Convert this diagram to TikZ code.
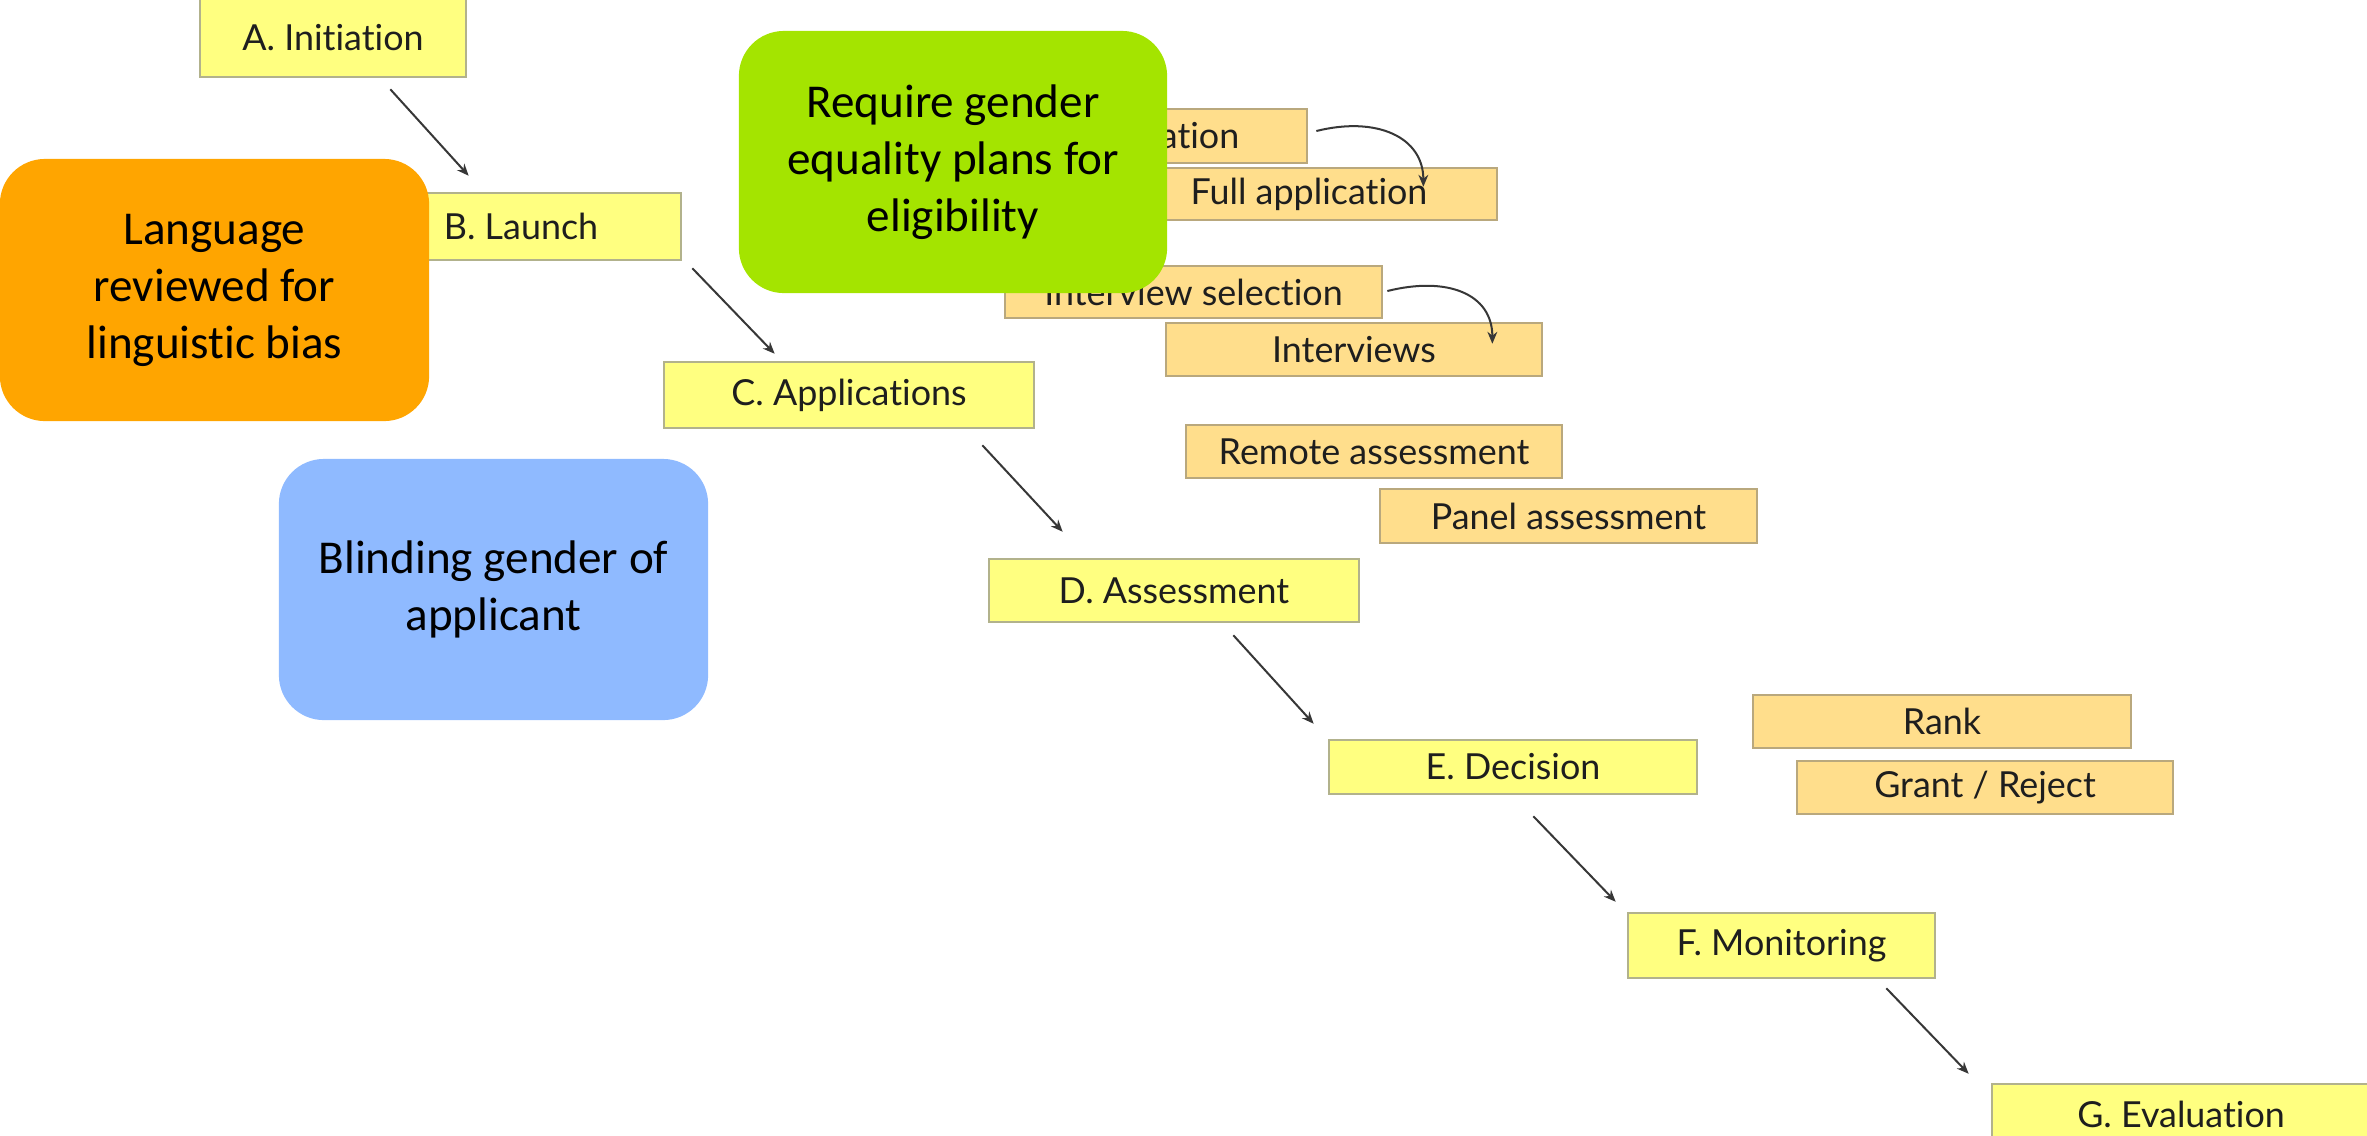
\documentclass[tikz,border=0pt]{standalone}
\usepackage{fontspec}
\setmainfont{Lato}[Ligatures={NoCommon,NoRare}]
\newfontfamily\calfont{Carlito}[Ligatures={NoCommon,NoRare}]
\usetikzlibrary{arrows.meta,calc}
\definecolor{stageyellow}{RGB}{255,255,128}
\definecolor{stageborder}{RGB}{178,178,140}
\definecolor{subfill}{RGB}{255,222,140}
\definecolor{subborder}{RGB}{185,168,125}
\definecolor{calloutorange}{RGB}{255,165,0}
\definecolor{calloutgreen}{RGB}{164,228,0}
\definecolor{calloutblue}{RGB}{143,186,255}
\definecolor{arrowgray}{RGB}{55,55,55}
\definecolor{textdark}{RGB}{30,30,30}
\tikzset{
  stagebox/.style={draw=stageborder, line width=0.7pt, fill=stageyellow, inner sep=0pt,
    text=textdark, font=\fontsize{10.2}{12}\selectfont},
  subbox/.style={stagebox, fill=subfill, draw=subborder},
  callout/.style={rounded corners=0.45cm, draw=none, align=center, inner sep=0pt,
    text=black, font=\calfont\fontsize{13.4}{16.2}\selectfont},
  flow/.style={draw=arrowgray, line width=0.57pt, -{Stealth[length=3.4pt,width=2.8pt]}}
}
\begin{document}
\begin{tikzpicture}[x=0.01cm,y=-0.01cm]
\useasboundingbox (0,0) rectangle (2367,1135);
% main stages
\node[stagebox, minimum width=2.66cm, minimum height=0.78cm] (A) at (333,38) {A. Initiation};
\node[stagebox, minimum width=3.20cm, minimum height=0.67cm] (B) at (521,226.5) {B. Launch};
\node[stagebox, minimum width=3.70cm, minimum height=0.66cm] (C) at (849,395) {C. Applications};
\node[stagebox, minimum width=3.70cm, minimum height=0.63cm] (D) at (1174,590.5) {D. Assessment};
\node[stagebox, minimum width=3.68cm, minimum height=0.54cm] (E) at (1513,767) {E. Decision};
\node[stagebox, minimum width=3.07cm, minimum height=0.65cm] (F) at (1781.5,945.5) {F. Monitoring};
\node[stagebox, minimum width=3.78cm, minimum height=0.61cm] (G) at (2181,1114.5) {G. Evaluation};
% sub steps
\node[subbox, minimum width=3.76cm, minimum height=0.54cm] (pre) at (1119,136) {};
\node[anchor=east, inner sep=0pt, text=textdark, font=\fontsize{10.2}{12}\selectfont] (pretext) at (1240,136) {ation};
\node[subbox, minimum width=3.76cm, minimum height=0.52cm] (full) at (1309,194) {Full application};
\node[subbox, minimum width=3.77cm, minimum height=0.52cm] (isel) at (1193.5,292) {Interview selection};
\node[subbox, minimum width=3.76cm, minimum height=0.53cm] (intv) at (1354,349.5) {Interviews};
\node[subbox, minimum width=3.76cm, minimum height=0.53cm] (remote) at (1374,451.5) {Remote assessment};
\node[subbox, minimum width=3.77cm, minimum height=0.54cm] (panel) at (1568.5,516) {Panel assessment};
\node[subbox, minimum width=3.78cm, minimum height=0.53cm] (rank) at (1942,721.5) {Rank};
\node[subbox, minimum width=3.76cm, minimum height=0.53cm] (grant) at (1985,787.5) {Grant / Reject};
% flow arrows
\draw[flow] ($(A.south east)+(-77,11)$) -- ($(B.north west)+(109,-16)$);
\draw[flow] ($(B.south east)+(10,7)$) -- ($(C.north west)+(112,-7)$);
\draw[flow] ($(C.south east)+(-53,16)$) -- ($(D.north west)+(75,-26)$);
\draw[flow] ($(D.south east)+(-127,12)$) -- ($(E.north west)+(-14,-15)$);
\draw[flow] ($(E.south east)+(-165,21)$) -- ($(F.north west)+(-11,-10)$);
\draw[flow] ($(F.south east)+(-50,9)$) -- ($(G.north west)+(-22,-9)$);
\draw[flow] ($(pre.east)+(8,-5)$) .. controls +(60,-15) and +(0,-50) .. ($(full.north east)+(-75,20)$);
\draw[flow] ($(isel.east)+(4,-1)$) .. controls +(60,-15) and +(0,-50) .. ($(intv.north east)+(-51,22)$);
% callouts
\node[callout, fill=calloutorange, minimum width=4.29cm, minimum height=2.62cm] (lang) at (214.5,290)
  {Language\\reviewed for\\linguistic bias};
\node[callout, fill=calloutgreen, minimum width=4.28cm, minimum height=2.62cm] (gep) at (953,162)
  {Require gender\\equality plans for\\eligibility};
\node[callout, fill=calloutblue, minimum width=4.29cm, minimum height=2.61cm] (blind) at (493.5,589.5)
  {Blinding gender of\\applicant};
\end{tikzpicture}
\end{document}
